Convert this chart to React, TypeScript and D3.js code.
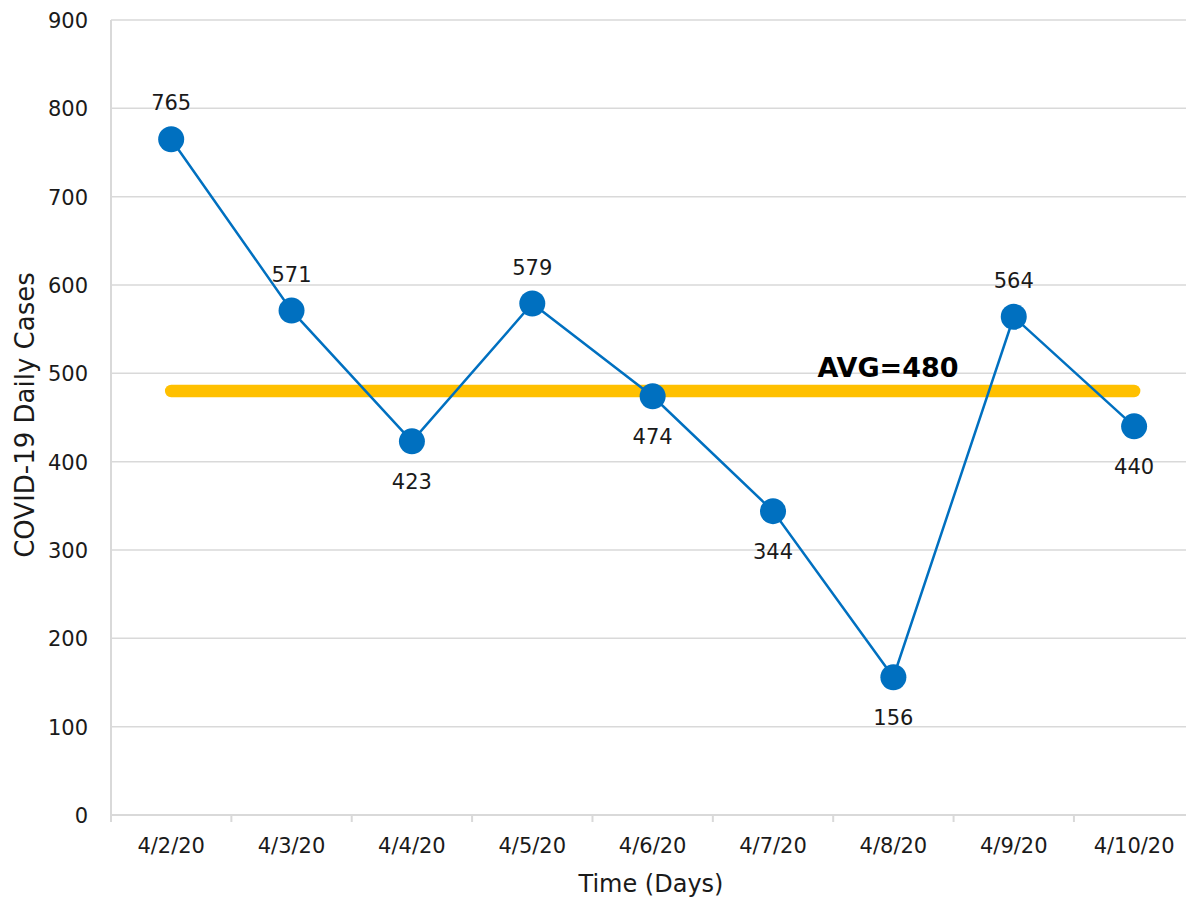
import React from "react";
import * as d3 from "d3";

const categories = ["4/2/20", "4/3/20", "4/4/20", "4/5/20", "4/6/20", "4/7/20", "4/8/20", "4/9/20", "4/10/20"];
const dailyCases = [765, 571, 423, 579, 474, 344, 156, 564, 440];
const labelAbove = [true, true, false, true, false, false, false, true, false];
const averageValue = 480;
const yTicks = [0, 100, 200, 300, 400, 500, 600, 700, 800, 900];

const W = 1186;
const H = 900;
const left = 111;
const right = 1194.3;
const top = 20;
const bottom = 815;
const FONT = "'DejaVu Sans', sans-serif";

export default function App() {
  const x = d3.scaleBand<string>().domain(categories).range([left, right]).padding(0);
  const y = d3.scaleLinear().domain([0, 900]).range([bottom, top]);
  const cx = (c: string) => (x(c) as number) + x.bandwidth() / 2;
  const pts = categories.map((c, i) => ({ c, v: dailyCases[i], above: labelAbove[i] }));
  const line = d3
    .line<{ c: string; v: number }>()
    .x((d) => cx(d.c))
    .y((d) => y(d.v));
  const avgY = y(averageValue);
  const boundaries = d3.range(categories.length + 1).map((i) => left + i * x.bandwidth());

  return (
    <svg
      width={W}
      height={H}
      style={{ position: "absolute", left: 0, top: 0, background: "#fff" }}
      fontFamily={FONT}
    >
      {/* gridlines */}
      {yTicks.map((t) => (
        <line key={t} x1={left} x2={right} y1={y(t)} y2={y(t)} stroke="#d9d9d9" strokeWidth={1.5} />
      ))}
      {/* y axis line */}
      <line x1={left} x2={left} y1={top} y2={bottom + 7} stroke="#d9d9d9" strokeWidth={2} />
      {/* x axis line */}
      <line x1={left} x2={right} y1={bottom} y2={bottom} stroke="#d9d9d9" strokeWidth={2} />
      {boundaries.map((b, i) => (
        <line key={i} x1={b} x2={b} y1={bottom} y2={bottom + 7} stroke="#d9d9d9" strokeWidth={2} />
      ))}
      {/* y tick labels */}
      {yTicks.map((t) => (
        <text key={t} x={88} y={y(t) + 8} textAnchor="end" fontSize={21} fill="#1a1a1a">
          {t}
        </text>
      ))}
      {/* x tick labels */}
      {categories.map((c) => (
        <text key={c} x={cx(c)} y={853} textAnchor="middle" fontSize={21} fill="#1a1a1a">
          {c}
        </text>
      ))}
      {/* axis titles */}
      <text x={651} y={892} textAnchor="middle" fontSize={24} fill="#1a1a1a">
        Time (Days)
      </text>
      <text
        transform={`translate(34,415) rotate(-90)`}
        textAnchor="middle"
        fontSize={26}
        fill="#1a1a1a"
      >
        COVID-19 Daily Cases
      </text>
      {/* average line */}
      <line
        x1={cx(categories[0])}
        x2={cx(categories[categories.length - 1])}
        y1={avgY}
        y2={avgY}
        stroke="#FFC000"
        strokeWidth={12.5}
        strokeLinecap="round"
      />
      {/* series line */}
      <path d={line(pts) || ""} fill="none" stroke="#0070C0" strokeWidth={2.5} />
      {pts.map((p) => (
        <circle key={p.c} cx={cx(p.c)} cy={y(p.v)} r={13} fill="#0070C0" />
      ))}
      {/* data labels */}
      {pts.map((p) => (
        <text
          key={p.c}
          x={cx(p.c)}
          y={p.above ? y(p.v) - 29 : y(p.v) + 48}
          textAnchor="middle"
          fontSize={21}
          fill="#1a1a1a"
        >
          {p.v}
        </text>
      ))}
      {/* avg label */}
      <text x={888} y={377} textAnchor="middle" fontSize={27} fontWeight="bold" fill="#000">
        {`AVG=${averageValue}`}
      </text>
    </svg>
  );
}
